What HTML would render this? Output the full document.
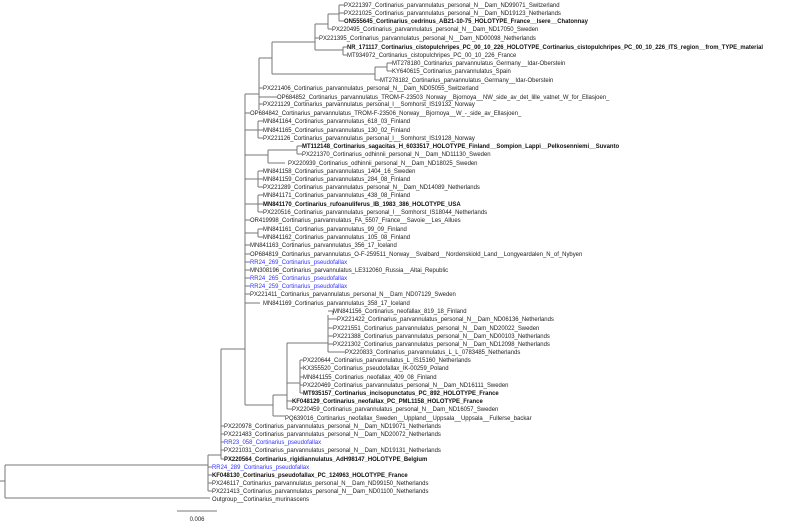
<!DOCTYPE html>
<html><head><meta charset="utf-8"><style>
html,body{margin:0;padding:0;background:#fff;width:800px;height:523px;overflow:hidden}
svg{display:block}
text{font-family:"Liberation Sans",Arial,sans-serif;font-size:5.95px;fill:#222}
.b{font-weight:bold;fill:#111}
.u{fill:#3333ff}
line,path{stroke:#777;stroke-width:1;fill:none}
</style></head><body>
<svg width="800" height="523" viewBox="0 0 800 523" xmlns="http://www.w3.org/2000/svg">
<g>
<path d="M0 481H5M5 465V498M5 465H208M5 498H210"/>
<path d="M208 455V491M208 467H212M208 475H212M208 483H212M208 491H212M208 455H221"/>
<path d="M221 349V459M221 426H224M221 434H224M221 442H224M221 450H224M221 459H224M221 349H245"/>
<path d="M245 94V405"/>
<path d="M245 94H259M259 58V110M259 88H263M259 97H277M259 104H263"/>
<path d="M259 58H272M272 42V74M272 42H315M272 74H375"/>
<path d="M315 24V50M315 24H328M315 38H319M315 50H343"/>
<path d="M328 14V29M328 14H339M328 29H332M339 5V21M339 5H344M339 13H344M339 21H344"/>
<path d="M343 47V55M343 47H347M343 55H347"/>
<path d="M375 67V80M375 67H387M375 80H380M387 63V71M387 63H392M387 71H392"/>
<path d="M245 113H250"/>
<path d="M245 130H258M258 121V138M258 121H263M258 130H263M258 138H263"/>
<path d="M245 155H268M268 150V163M268 150H297M268 163H285M297 146V154M297 146H302M297 154H302"/>
<path d="M245 179H258M258 171V187M258 171H263M258 179H263M258 187H263"/>
<path d="M245 204H258M258 195V212M258 195H263M258 204H263M258 212H263"/>
<path d="M245 220H250M245 233H258M258 229V237M258 229H263M258 237H263"/>
<path d="M245 245H250M245 254H250M245 262H250M245 270H250M245 278H250M245 286H250M245 294H250M245 303H260"/>
<path d="M245 405H273M273 395V416M273 395H287M273 416H285"/>
<path d="M287 343V409M287 343H328M287 383H300M287 401H292M287 409H292"/>
<path d="M328 315V350M328 311H333M333 311V315M328 319H337M328 328H333M328 336H333M328 344H333M328 352H345M328 350V352"/>
<path d="M300 360V393M300 360H303M300 368H303M300 377H303M300 385H303M300 393H303"/>
<path d="M177 511H217"/>
</g>
<text x="344" y="7">PX221397_Cortinarius_parvannulatus_personal_N__Dam_ND99071_Switzerland</text>
<text x="344" y="15">PX221025_Cortinarius_parvannulatus_personal_N__Dam_ND19123_Netherlands</text>
<text x="344" y="23" class="b">ON555645_Cortinarius_cedrinus_AB21-10-75_HOLOTYPE_France__Isere__Chatonnay</text>
<text x="332" y="31">PX220495_Cortinarius_parvannulatus_personal_N__Dam_ND17050_Sweden</text>
<text x="319" y="40">PX221395_Cortinarius_parvannulatus_personal_N__Dam_ND00098_Netherlands</text>
<text x="347" y="49" class="b" textLength="416" lengthAdjust="spacingAndGlyphs">NR_171117_Cortinarius_cistopulchripes_PC_00_10_226_HOLOTYPE_Cortinarius_cistopulchripes_PC_00_10_226_ITS_region__from_TYPE_material</text>
<text x="347" y="57">MT934972_Cortinarius_cistopulchripes_PC_00_10_226_France</text>
<text x="392" y="65">MT278180_Cortinarius_parvannulatus_Germany__Idar-Oberstein</text>
<text x="392" y="73">KY640615_Cortinarius_parvannulatus_Spain</text>
<text x="380" y="82">MT278182_Cortinarius_parvannulatus_Germany__Idar-Oberstein</text>
<text x="263" y="90">PX221406_Cortinarius_parvannulatus_personal_N__Dam_ND05055_Switzerland</text>
<text x="277" y="99">OP684852_Cortinarius_parvannulatus_TROM-F-23503_Norway__Bjornoya__NW_side_av_det_lille_vatnet_W_for_Ellasjoen_</text>
<text x="263" y="106">PX221129_Cortinarius_parvannulatus_personal_I__Somhorst_IS19132_Norway</text>
<text x="250" y="115">OP684842_Cortinarius_parvannulatus_TROM-F-23506_Norway__Bjornoya__W_-_side_av_Ellasjoen_</text>
<text x="263" y="123">MN841164_Cortinarius_parvannulatus_618_03_Finland</text>
<text x="263" y="132">MN841165_Cortinarius_parvannulatus_130_02_Finland</text>
<text x="263" y="140">PX221126_Cortinarius_parvannulatus_personal_I__Somhorst_IS19128_Norway</text>
<text x="302" y="148" class="b">MT112148_Cortinarius_sagacitas_H_6033517_HOLOTYPE_Finland__Sompion_Lappi__Pelkosenniemi__Suvanto</text>
<text x="302" y="156">PX221370_Cortinarius_odhinnii_personal_N__Dam_ND11130_Sweden</text>
<text x="288" y="165">PX220939_Cortinarius_odhinnii_personal_N__Dam_ND18025_Sweden</text>
<text x="263" y="173">MN841158_Cortinarius_parvannulatus_1404_16_Sweden</text>
<text x="263" y="181">MN841159_Cortinarius_parvannulatus_284_08_Finland</text>
<text x="263" y="189">PX221289_Cortinarius_parvannulatus_personal_N__Dam_ND14089_Netherlands</text>
<text x="263" y="197">MN841171_Cortinarius_parvannulatus_438_08_Finland</text>
<text x="263" y="206" class="b">MN841170_Cortinarius_rufoanuliferus_IB_1983_386_HOLOTYPE_USA</text>
<text x="263" y="214">PX220516_Cortinarius_parvannulatus_personal_I__Somhorst_IS18044_Netherlands</text>
<text x="250" y="222">OR419998_Cortinarius_parvannulatus_FA_5507_France__Savoie__Les_Allues</text>
<text x="263" y="231">MN841161_Cortinarius_parvannulatus_99_09_Finland</text>
<text x="263" y="239">MN841162_Cortinarius_parvannulatus_105_08_Finland</text>
<text x="250" y="247">MN841163_Cortinarius_parvannulatus_356_17_Iceland</text>
<text x="250" y="256">OP684819_Cortinarius_parvannulatus_O-F-259511_Norway__Svalbard__Nordenskiold_Land__Longyeardalen_N_of_Nybyen</text>
<text x="250" y="264" class="u">RR24_269_Cortinarius_pseudofallax</text>
<text x="250" y="272">MN308196_Cortinarius_parvannulatus_LE312060_Russia__Altai_Republic</text>
<text x="250" y="280" class="u">RR24_265_Cortinarius_pseudofallax</text>
<text x="250" y="288" class="u">RR24_259_Cortinarius_pseudofallax</text>
<text x="250" y="296">PX221411_Cortinarius_parvannulatus_personal_N__Dam_ND07129_Sweden</text>
<text x="263" y="305">MN841169_Cortinarius_parvannulatus_358_17_Iceland</text>
<text x="333" y="313">MN841156_Cortinarius_neofallax_819_18_Finland</text>
<text x="337" y="321">PX221422_Cortinarius_parvannulatus_personal_N__Dam_ND06136_Netherlands</text>
<text x="333" y="330">PX221551_Cortinarius_parvannulatus_personal_N__Dam_ND20022_Sweden</text>
<text x="333" y="338">PX221388_Cortinarius_parvannulatus_personal_N__Dam_ND00103_Netherlands</text>
<text x="333" y="346">PX221302_Cortinarius_parvannulatus_personal_N__Dam_ND12098_Netherlands</text>
<text x="345" y="354">PX220833_Cortinarius_parvannulatus_L_L_0783485_Netherlands</text>
<text x="303" y="362">PX220644_Cortinarius_parvannulatus_L_IS15160_Netherlands</text>
<text x="303" y="370">KX355520_Cortinarius_pseudofallax_IK-00259_Poland</text>
<text x="303" y="379">MN841155_Cortinarius_neofallax_409_08_Finland</text>
<text x="303" y="387">PX220469_Cortinarius_parvannulatus_personal_N__Dam_ND16111_Sweden</text>
<text x="303" y="395" class="b">MT935157_Cortinarius_incisopunctatus_PC_892_HOLOTYPE_France</text>
<text x="292" y="403" class="b">KF048129_Cortinarius_neofallax_PC_PML1158_HOLOTYPE_France</text>
<text x="292" y="411">PX220459_Cortinarius_parvannulatus_personal_N__Dam_ND16057_Sweden</text>
<text x="285" y="420">PQ639016_Cortinarius_neofallax_Sweden__Uppland__Uppsala__Uppsala__Fullerse_backar</text>
<text x="224" y="428">PX220978_Cortinarius_parvannulatus_personal_N__Dam_ND19071_Netherlands</text>
<text x="224" y="436">PX221483_Cortinarius_parvannulatus_personal_N__Dam_ND20072_Netherlands</text>
<text x="224" y="444" class="u">RR23_058_Cortinarius_pseudofallax</text>
<text x="224" y="452">PX221031_Cortinarius_parvannulatus_personal_N__Dam_ND19131_Netherlands</text>
<text x="224" y="461" class="b">PX220564_Cortinarius_rigidiannulatus_AdH98147_HOLOTYPE_Belgium</text>
<text x="212" y="469" class="u">RR24_289_Cortinarius_pseudofallax</text>
<text x="212" y="477" class="b">KF048130_Cortinarius_pseudofallax_PC_124963_HOLOTYPE_France</text>
<text x="212" y="485">PX246117_Cortinarius_parvannulatus_personal_N__Dam_ND99150_Netherlands</text>
<text x="212" y="493">PX221413_Cortinarius_parvannulatus_personal_N__Dam_ND01100_Netherlands</text>
<text x="212" y="501">Outgroup__Cortinarius_murinascens</text>
<text x="197" y="521" text-anchor="middle">0.006</text>
</svg>
</body></html>
